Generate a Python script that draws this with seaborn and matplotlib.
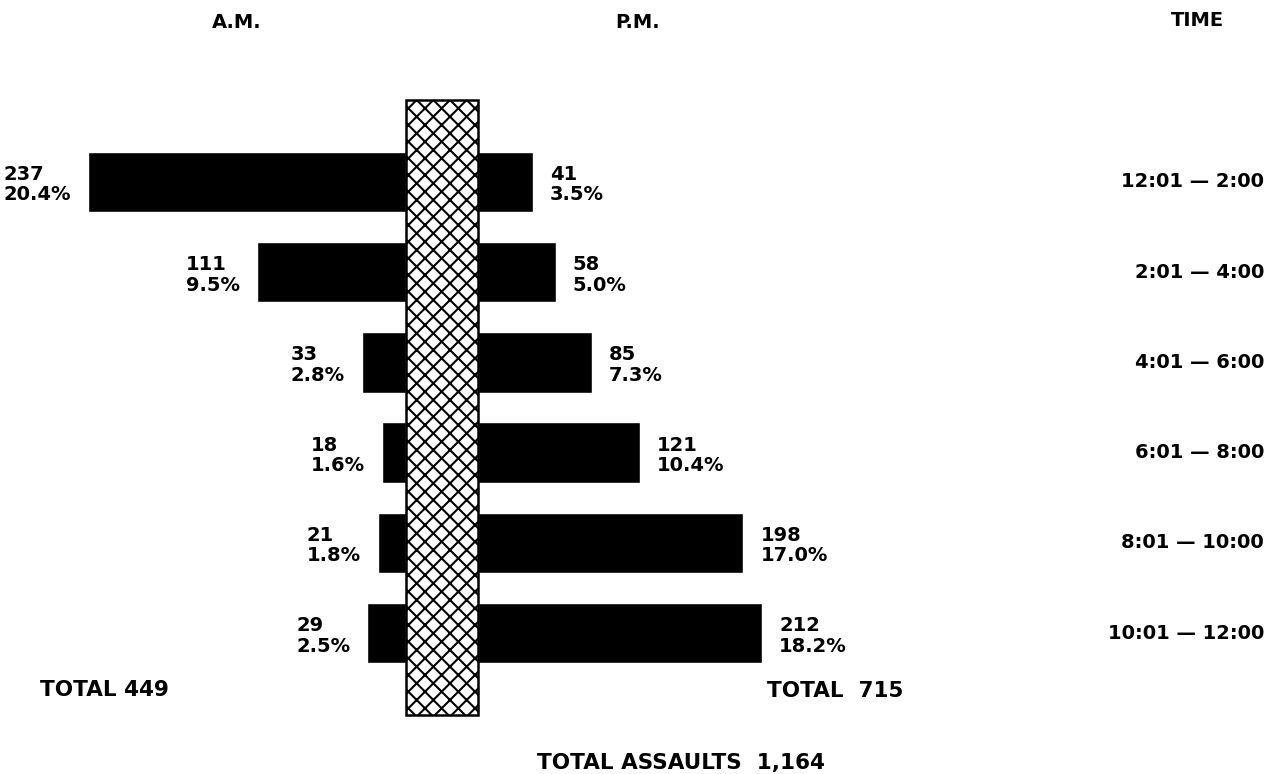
import matplotlib
matplotlib.use("Agg")
import matplotlib.pyplot as plt
from matplotlib.patches import Rectangle
from matplotlib.transforms import blended_transform_factory
import pandas as pd
import seaborn as sns

# Assaults by time of day (two-hour blocks)
time_blocks = ["12:01 \u2014 2:00", "2:01 \u2014 4:00", "4:01 \u2014 6:00",
               "6:01 \u2014 8:00", "8:01 \u2014 10:00", "10:01 \u2014 12:00"]
am_counts = [237, 111, 33, 18, 21, 29]
am_pct = [20.4, 9.5, 2.8, 1.6, 1.8, 2.5]
pm_counts = [41, 58, 85, 121, 198, 212]
pm_pct = [3.5, 5.0, 7.3, 10.4, 17.0, 18.2]
am_total = 449
pm_total = 715
grand_total = "1,164"

df = pd.DataFrame({"time": time_blocks, "am": am_counts, "pm": pm_counts,
                   "am_pct": am_pct, "pm_pct": pm_pct})

sns.set_theme(style="white")
plt.rcParams["font.family"] = ["DejaVu Sans"]
plt.rcParams["hatch.linewidth"] = 1.5

W, H = 1284, 774
fig = plt.figure(figsize=(W / 100, H / 100), dpi=100)
fig.patch.set_facecolor("white")

col_left, col_right = 406, 478      # central divider (pixels)
top, bottom = 100, 715
px_per_unit = 1.34

ax_h = (bottom - top) / H
ax_y = 1 - bottom / H
axL = fig.add_axes([0, ax_y, col_left / W, ax_h])
axR = fig.add_axes([col_right / W, ax_y, (W - col_right) / W, ax_h])

bar_w = 0.67
sns.barplot(data=df, y="time", x="am", color="black", saturation=1,
            width=bar_w, orient="h", ax=axL)
sns.barplot(data=df, y="time", x="pm", color="black", saturation=1,
            width=bar_w, orient="h", ax=axR)

axL.set_xlim(col_left / px_per_unit, 0)
axR.set_xlim(0, (W - col_right) / px_per_unit)
for ax in (axL, axR):
    ax.set_ylim(5.907, -0.907)
    ax.axis("off")

txt = dict(fontsize=14, fontweight="bold", color="black")
big = dict(fontsize=15.5, fontweight="bold", color="black")
off = 17 * 0.72  # pixel gap between bar end and its label, in points

for i, (v, p) in enumerate(zip(df["am"], df["am_pct"])):
    axL.annotate(f"{v}\n{p:.1f}%", xy=(v, i), xytext=(-off, -2),
                 textcoords="offset points", ha="right", va="center",
                 multialignment="left", linespacing=1.1, **txt)
for i, (v, p) in enumerate(zip(df["pm"], df["pm_pct"])):
    axR.annotate(f"{v}\n{p:.1f}%", xy=(v, i), xytext=(off, -2),
                 textcoords="offset points", ha="left", va="center",
                 multialignment="left", linespacing=1.1, **txt)

# time-block labels on the right
tr = blended_transform_factory(fig.transFigure, axR.transData)
for i, t in enumerate(df["time"]):
    fig.text(1264 / W, i, t, transform=tr, ha="right", va="center", **txt)

# hatched central divider
fig.add_artist(Rectangle((col_left / W, ax_y), (col_right - col_left) / W, ax_h,
                         transform=fig.transFigure, facecolor="white",
                         edgecolor="black", hatch="xx", linewidth=1.8,
                         zorder=5))

# headers
fig.text(237 / W, 1 - 23 / H, "A.M.", ha="center", va="center", **txt)
fig.text(638 / W, 1 - 23 / H, "P.M.", ha="center", va="center", **txt)
fig.text(1197 / W, 1 - 20 / H, "TIME", ha="center", va="center", **txt)

# totals
fig.text(40 / W, 1 - 690 / H, f"TOTAL {am_total}", ha="left", va="center", **big)
fig.text(767 / W, 1 - 691 / H, f"TOTAL  {pm_total}", ha="left", va="center", **big)
fig.text(681 / W, 1 - 763 / H, f"TOTAL ASSAULTS  {grand_total}",
         ha="center", va="center", **big)

fig.savefig("out.png", dpi=100, facecolor="white")
